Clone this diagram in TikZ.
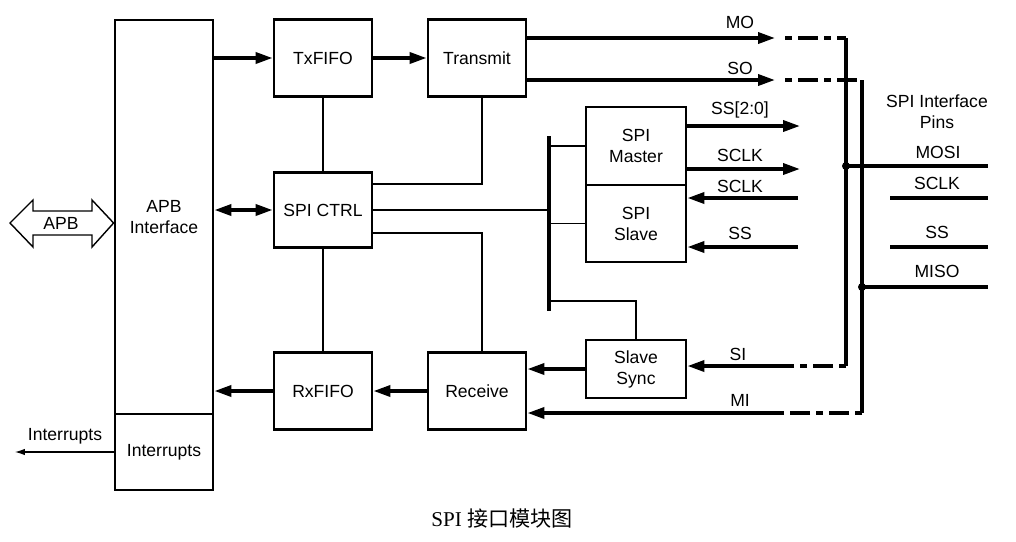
\documentclass[tikz,border=0pt]{standalone}
\usepackage{fontspec}
\setmainfont{Liberation Sans}
\newfontfamily\capfont{Liberation Serif}
\newfontfamily\cjkfont{Noto Sans CJK SC}
\usetikzlibrary{arrows.meta,positioning}

\begin{document}
\begin{tikzpicture}[x=0.02cm,y=-0.02cm,font=\fontsize{10}{12}\selectfont,
  blk/.style={draw,line width=1.6pt,minimum width=1.96cm,minimum height=1.54cm,align=center,inner sep=0pt},
  arr/.style={-{Triangle[length=3.4mm,width=2.2mm]},line width=2pt},
  darr/.style={{Triangle[length=3.4mm,width=2.2mm]}-{Triangle[length=3.4mm,width=2.2mm]},line width=2pt},
  bus/.style={line width=2pt},
  link/.style={line width=0.6pt},
  pin/.style={line width=2pt,dash pattern=on 0.14cm off 0.12cm on 0.4cm off 0.12cm},
  lbl/.style={inner sep=1pt,align=center}]
\useasboundingbox (0,0) rectangle (1016,541);
% blocks
\node[blk,minimum height=7.88cm] (apb) at (164,217) {APB\\Interface};
\node[blk,minimum height=1.52cm] (intr) at (164,452) {Interrupts};
\node[blk] (txf) at (323,58) {TxFIFO};
\node[blk] (tx) at (477,58) {Transmit};
\node[blk,minimum height=1.5cm] (ctrl) at (323,210) {SPI CTRL};
\node[blk] (rxf) at (323,391) {RxFIFO};
\node[blk] (rx) at (477,391) {Receive};
\node[blk,minimum width=2cm,minimum height=1.56cm] (mst) at (636,146) {SPI\\Master};
\node[blk,minimum width=2cm,minimum height=1.54cm] (slv) at (636,223.5) {SPI\\Slave};
\node[blk,minimum width=2cm,minimum height=1.16cm] (sync) at (636,369) {Slave\\Sync};

% APB bus arrow
\draw[line width=0.8pt,fill=white] (10,223) -- (33,200) -- (33,211) -- (92,211) -- (92,200)
  -- (apb.west |- 0,223) -- (92,247) -- (92,235) -- (33,235) -- (33,247) -- cycle;
\node[lbl] (apblbl) at (61,223) {APB};

% interrupts out
\coordinate (irq) at (15,452);
\draw[-{Latex[length=2mm,width=1.3mm]},line width=0.6pt] (intr.west) -- (irq);
\node[lbl] (irqlbl) at (65,436) {Interrupts};

% internal bus
\coordinate (bt) at (549,136);
\coordinate (bb) at (549,311);
\coordinate (tap) at (549,301);
\draw[line width=2.6pt] (bt) -- (bb);
\draw[link] (txf) -- (ctrl);
\draw[link] (ctrl) -- (rxf);
\draw[link] ([xshift=0.1cm]tx.south) |- ([yshift=0.52cm]ctrl.east);
\draw[link] ([yshift=-0.46cm]ctrl.east) -| ([xshift=0.1cm]rx.north);
\draw[link] (ctrl.east) -- (ctrl.east -| bt);
\draw[link] (mst.west) -- (mst.west -| bt);
\draw[link] (slv.west) -- (slv.west -| bt);
\draw[link] (tap) -| (sync.north);

% data path
\draw[arr] (apb.east |- txf) -- (txf);
\draw[arr] (txf) -- (tx);
\draw[darr] (apb.east |- ctrl) -- (ctrl);
\draw[arr] (rxf) -- (rxf -| apb.east);
\draw[arr] (rx) -- (rxf);
\draw[arr] (sync.west) -- (sync.west -| rx.east);

% MO / SI loop
\coordinate (mo) at (775,38);
\coordinate (mo-a) at (785,38);
\coordinate (mo-b) at (846,38);
\coordinate (si-b) at (846,366);
\coordinate (si-a) at (777,366);
\draw[arr] (tx.east |- mo) -- (mo);
\draw[pin] (mo-a) -- (mo-b);
\draw[bus] (mo-b) -- (si-b);
\draw[pin] (si-b) -- ++(-0.14cm,0) -- (si-a);
\draw[arr] (si-a) -- (sync.east |- si-a);
\node[lbl] (molbl) at (740,22) {MO};
\node[lbl] (silbl) at (738,354) {SI};

% SO / MI loop
\coordinate (so) at (775,80);
\coordinate (so-a) at (785,80);
\coordinate (so-b) at (862,80);
\coordinate (mi-b) at (862,413);
\coordinate (mi-a) at (777,413);
\draw[arr] (tx.east |- so) -- (so);
\draw[pin] (so-a) -- (so-b);
\draw[bus] (so-b) -- (mi-b);
\draw[pin] (mi-b) -- (mi-a);
\draw[arr] (mi-a) -- (rx.east |- mi-a);
\node[lbl] (solbl) at (740,68) {SO};
\node[lbl] (milbl) at (740,400) {MI};

% master / slave signals
\coordinate (ss-o) at (800,126);
\coordinate (sclk-o) at (800,169);
\coordinate (sclk-i) at (798,198);
\coordinate (ss-i) at (798,247);
\draw[arr] (mst.east |- ss-o) -- (ss-o);
\draw[arr] (mst.east |- sclk-o) -- (sclk-o);
\draw[arr] (sclk-i) -- (sclk-i -| slv.east);
\draw[arr] (ss-i) -- (ss-i -| slv.east);
\node[lbl] (ssolbl) at (740,110) {SS[2:0]};
\node[lbl] (sclkolbl) at (740,155) {SCLK};
\node[lbl] (sclkilbl) at (740,186) {SCLK};
\node[lbl] (ssilbl) at (740,233) {SS};

% interface pins
\coordinate (mosi-j) at (846,166);
\coordinate (miso-j) at (862,287);
\coordinate (mosi) at (988,166);
\coordinate (miso) at (988,287);
\coordinate (sclk-a) at (890,198);
\coordinate (sclk) at (988,198);
\coordinate (ss-a) at (890,247);
\coordinate (ss) at (988,247);
\fill (mosi-j) circle[radius=0.08cm];
\fill (miso-j) circle[radius=0.08cm];
\draw[bus] (mosi-j) -- (mosi);
\draw[bus] (miso-j) -- (miso);
\draw[bus] (sclk-a) -- (sclk);
\draw[bus] (ss-a) -- (ss);
\node[lbl] (pinslbl) at (937,112) {SPI Interface\\Pins};
\node[lbl] (mosilbl) at (938,152) {MOSI};
\node[lbl] (sclklbl) at (937,183) {SCLK};
\node[lbl] (sslbl) at (937,232) {SS};
\node[lbl] (misolbl) at (937,271) {MISO};

% caption
\node[font=\fontsize{12}{14}\selectfont] (cap) at (502,518) {\capfont SPI \cjkfont 接口模块图};
\end{tikzpicture}
\end{document}
